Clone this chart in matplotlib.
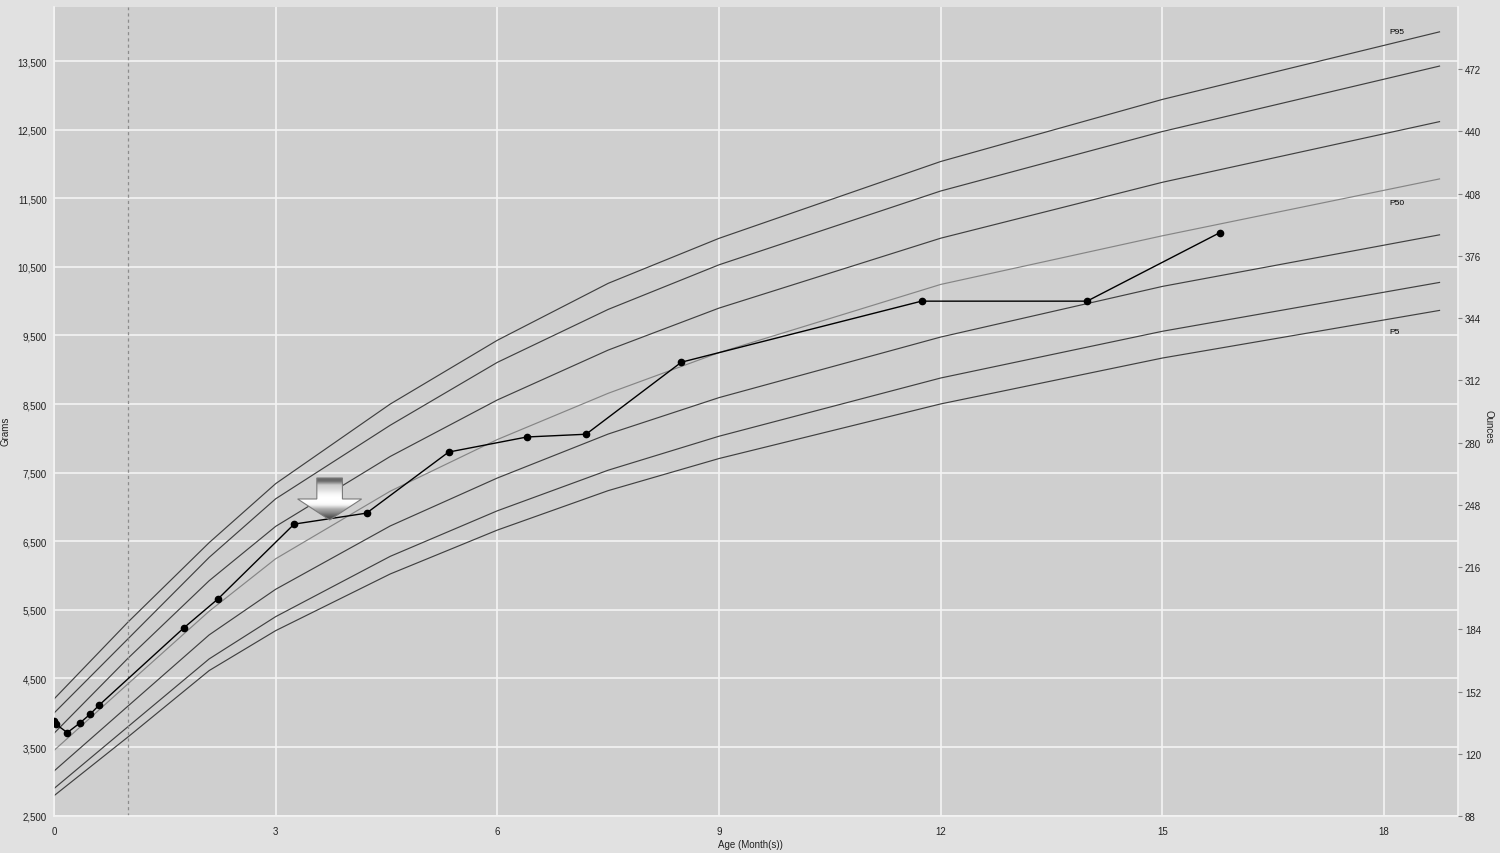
import numpy as np
import matplotlib.pyplot as plt
import matplotlib.transforms as mtransforms
from matplotlib.patches import Polygon

plt.rcParams['font.family'] = ['Liberation Sans', 'DejaVu Sans']

OZ = 28.3495  # grams per ounce

# percentile curves (grams)
curve_age = [0, 1, 2.1, 3, 4.55, 6, 7.5, 9, 12, 15, 18.75]
p95 = [4200, 5320, 6480, 7340, 8500, 9430, 10260, 10916, 12036, 12941, 13926]
p90 = [3995, 5076, 6265, 7119, 8191, 9108, 9880, 10530, 11606, 12473, 13427]
p75 = [3700, 4793, 5925, 6717, 7736, 8560, 9287, 9899, 10918, 11733, 12617]
p50 = [3450, 4420, 5480, 6245, 7230, 7983, 8657, 9250, 10244, 10953, 11782]
p25 = [3150, 4096, 5135, 5800, 6723, 7422, 8063, 8594, 9477, 10215, 10967]
p10 = [2895, 3796, 4785, 5401, 6280, 6944, 7536, 8031, 8880, 9561, 10273]
p5 = [2790, 3646, 4615, 5197, 6023, 6663, 7238, 7706, 8502, 9171, 9865]

# child's measurements
visit_age = [0, 0.03, 0.18, 0.35, 0.49, 0.61, 1.76, 2.22, 3.25, 4.23, 5.34,
             6.4, 7.2, 8.49, 11.74, 13.98, 15.78]
visit_weight = [3880, 3830, 3710, 3850, 3980, 4110, 5240, 5660, 6750, 6910, 7800,
                8020, 8060, 9110, 10000, 10000, 11000]

# labels at the right end of the curves
label_text = ['P95', 'P50', 'P5']
label_age = [18.07, 18.07, 18.07]
label_weight = [13930, 11440, 9560]

gram_ticks = list(range(2500, 14000, 1000))
ounce_ticks = list(range(88, 473, 32))
month_ticks = list(range(0, 19, 3))
ylim_g = (88 * OZ, 504 * OZ)
xlim_m = (0, 19)

marker_age, marker_weight = 3.73, 6810  # tip of the arrow marker
cutoff_age = 1  # dashed line

fig = plt.figure(figsize=(15, 8.54), dpi=100, facecolor='#e1e1e1')
ax = fig.add_axes([54 / 1500, 37 / 854, 1404 / 1500, 809 / 854])
ax.set_facecolor('#cfcfcf')

for vals in [p95, p90, p75, p25, p10, p5]:
    ax.plot(curve_age, vals, color='#404040', lw=0.85, zorder=2)
ax.plot(curve_age, p50, color='#858585', lw=0.85, zorder=2)

for t, xa, yw in zip(label_text, label_age, label_weight):
    ax.text(xa, yw, t, fontsize=6, ha='left', va='center', color='black')

ax.axvline(cutoff_age, color='#8c8c8c', lw=0.9, ls=(0, (2.5, 2.5)), zorder=2)

ax.plot(visit_age, visit_weight, color='black', lw=1.0, marker='o', ms=4.5,
        zorder=3)

# arrow marker (sizes in pixels, tip placed on the data point)
trans = mtransforms.Affine2D() + mtransforms.ScaledTranslation(
    marker_age, marker_weight, ax.transData)
verts = [(0, 0), (32, 21), (12.8, 21), (12.8, 42), (-12.8, 42), (-12.8, 21), (-32, 21)]
arrow = Polygon(verts, closed=True, transform=trans, facecolor='none',
                edgecolor='#7a7a7a', lw=0.8, zorder=5)
ax.add_patch(arrow)
grad = np.array([0.30, 0.33, 0.42, 0.52, 0.6, 0.68, 0.82, 0.95, 0.99, 1.0, 1.0, 1.0,
                 0.98, 0.95, 0.9, 0.86, 0.83, 0.8, 0.6, 0.42, 0.40])
img = ax.imshow(np.repeat(grad[:, None], 4, axis=1), cmap='gray', vmin=0, vmax=1,
                extent=[-33, 33, 0, 42], origin='lower', aspect='auto',
                interpolation='bilinear', transform=trans, zorder=4)
img.set_clip_path(arrow)

ax.set_xlim(*xlim_m)
ax.set_ylim(*ylim_g)
ax.set_xticks(month_ticks)
ax.set_yticks(gram_ticks)
ax.set_yticklabels([f'{v:,}' for v in gram_ticks])
ax.grid(color='#f4f4f4', lw=1.2)
ax.set_axisbelow(True)
ax.tick_params(length=0, labelsize=7, colors='#222222')
ax.tick_params(axis='y', pad=5)
ax.tick_params(axis='x', pad=7)
for side in ['left', 'bottom', 'right']:
    ax.spines[side].set_color('#f4f4f4')
    ax.spines[side].set_linewidth(1.2)
ax.spines['top'].set_visible(False)

ax.set_ylabel('Grams', fontsize=7, color='#222222')
ax.yaxis.set_label_coords(-0.031, 0.477)
ax.set_xlabel('Age (Month(s))', fontsize=7, color='#222222')
ax.xaxis.set_label_coords(0.496, -0.034)
ax.xaxis.label.set_va('center')

ax2 = ax.twinx()
ax2.set_ylim(ylim_g[0] / OZ, ylim_g[1] / OZ)
ax2.set_yticks(ounce_ticks)
ax2.tick_params(length=3, width=0.8, color='#808080', labelsize=7, pad=2,
                labelcolor='#222222')
for s in ax2.spines.values():
    s.set_visible(False)
ax2.set_ylabel('Ounces', fontsize=7, rotation=270, va='center', color='#222222')
ax2.yaxis.set_label_coords(1.0214, 0.482)

fig.savefig('out.png', dpi=100, facecolor=fig.get_facecolor())
